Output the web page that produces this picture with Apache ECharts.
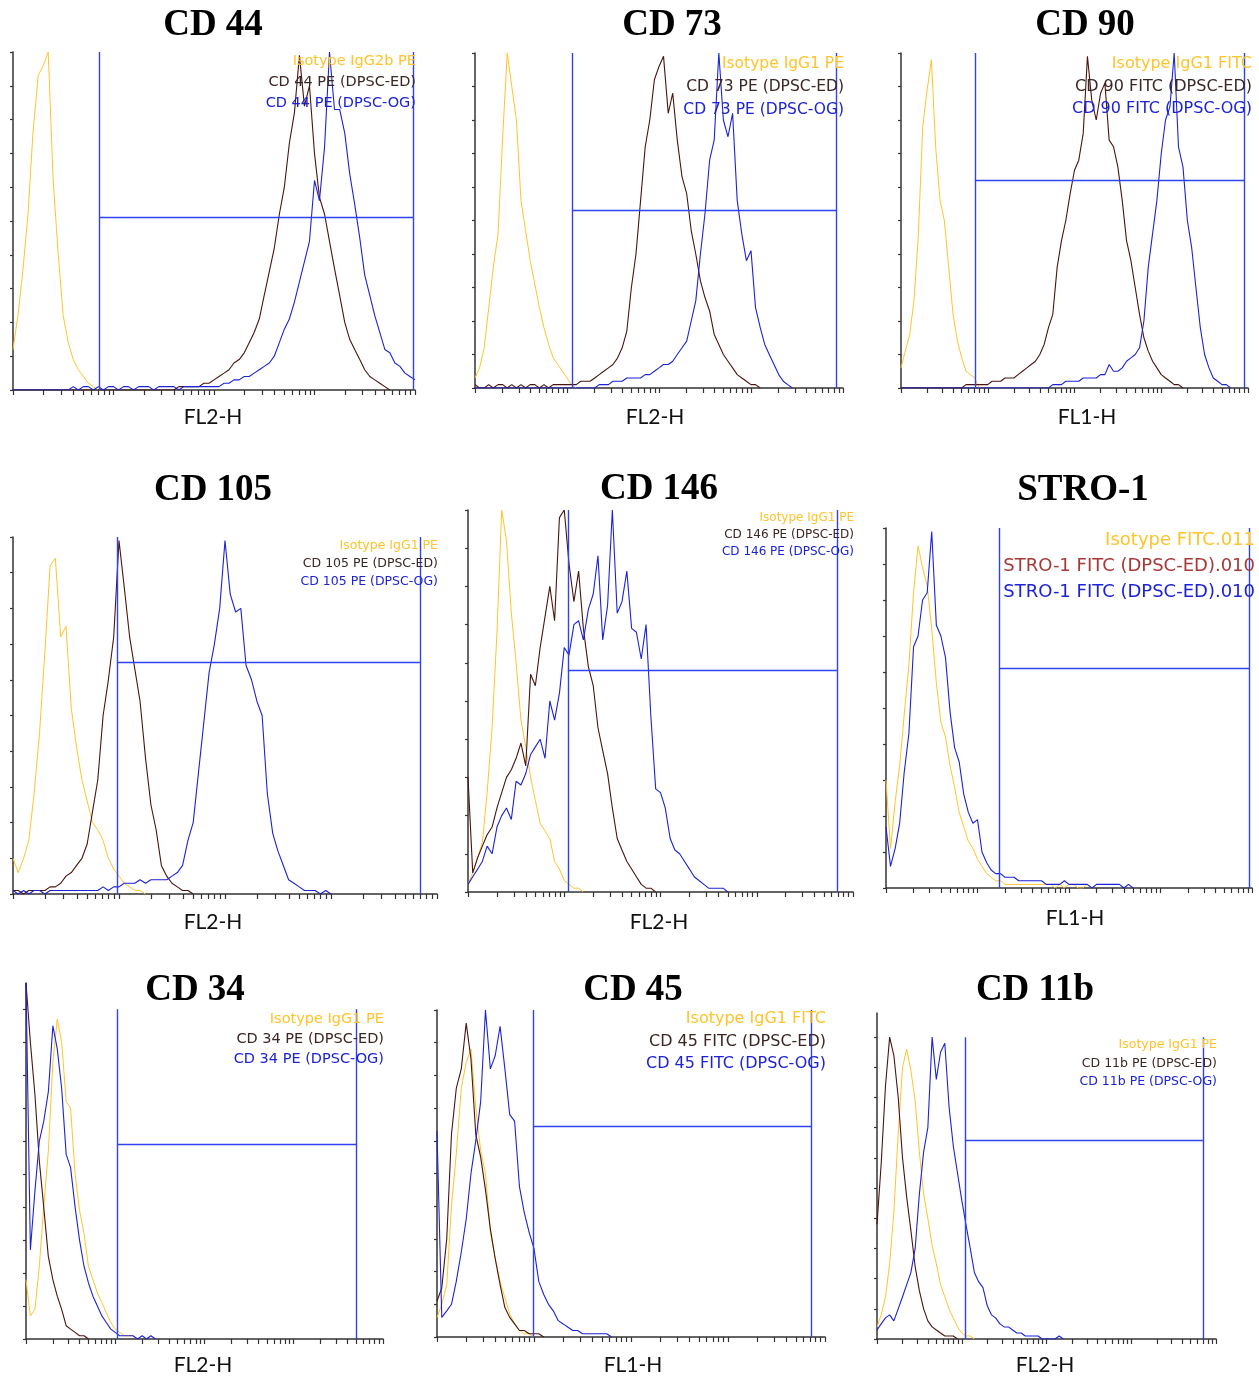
<!DOCTYPE html>
<html>
<head>
<meta charset="utf-8">
<title>DPSC surface markers</title>
<script src="https://cdn.jsdelivr.net/npm/echarts@6/dist/echarts.min.js"></script>
<style>
  html, body { margin: 0; padding: 0; background: #fff; }
  #chart { width: 1259px; height: 1377px; }
</style>
</head>
<body>
<div id="chart"></div>
<script>
// histogram bins: 20 per decade over 10^0 .. 10^4
var mantissa = [1, 1.12, 1.26, 1.41, 1.58, 1.78, 2, 2.24, 2.51, 2.82, 3.16, 3.55, 3.98, 4.47, 5.01, 5.62, 6.31, 7.08, 7.94, 8.91];
var decades = [1, 10, 100, 1000];
var logTicks = [1, 2, 3, 4, 5, 6, 7, 8, 9, 10, 20, 30, 40, 50, 60, 70, 80, 90, 100, 200, 300, 400, 500, 600, 700, 800, 900,
  1000, 2000, 3000, 4000, 5000, 6000, 7000, 8000, 9000, 10000];
var yTicks = [0, 10, 20, 30, 40, 50, 60, 70, 80, 90, 100];

var titles = ['CD 44', 'CD 73', 'CD 90', 'CD 105', 'CD 146', 'STRO-1', 'CD 34', 'CD 45', 'CD 11b'];
var channels = ['FL2-H', 'FL2-H', 'FL1-H', 'FL2-H', 'FL2-H', 'FL1-H', 'FL2-H', 'FL1-H', 'FL2-H'];
var isoNames = ['Isotype IgG2b PE', 'Isotype IgG1 PE', 'Isotype IgG1 FITC', 'Isotype IgG1 PE', 'Isotype IgG1 PE',
  'Isotype FITC.011', 'Isotype IgG1 PE', 'Isotype IgG1 FITC', 'Isotype IgG1 PE'];
var edNames = ['CD 44 PE (DPSC-ED)', 'CD 73 PE (DPSC-ED)', 'CD 90 FITC (DPSC-ED)', 'CD 105 PE (DPSC-ED)', 'CD 146 PE (DPSC-ED)',
  'STRO-1 FITC (DPSC-ED).010', 'CD 34 PE (DPSC-ED)', 'CD 45 FITC (DPSC-ED)', 'CD 11b PE (DPSC-ED)'];
var ogNames = ['CD 44 PE (DPSC-OG)', 'CD 73 PE (DPSC-OG)', 'CD 90 FITC (DPSC-OG)', 'CD 105 PE (DPSC-OG)', 'CD 146 PE (DPSC-OG)',
  'STRO-1 FITC (DPSC-ED).010', 'CD 34 PE (DPSC-OG)', 'CD 45 FITC (DPSC-OG)', 'CD 11b PE (DPSC-OG)'];

// gate marker: low / high channel and level (% of max)
var gateLow = [7.2, 11.3, 7.1, 9.6, 10.9, 17.2, 10.5, 9.8, 10.9];
var gateHigh = [9550, 8400, 9000, 6900, 6800, 9300, 5000, 7200, 7000];
var gateLevel = [51, 53, 62, 65, 58, 61, 59, 64.5, 66];

// counts per bin (% of peak)
var iso44 = [12, 22, 36, 52, 76, 93, 96, 100, 62, 40, 22, 14, 9, 6, 4, 2, 1, 0];
var ed44 = [0, 0, 0, 0, 0, 0, 0, 0, 0, 0, 0, 0, 0, 0, 0, 0, 0, 0, 0, 0, 0, 0, 0, 0, 0, 0, 0, 0, 0, 0,
  0, 0, 0, 1, 1, 1, 1, 1, 2, 2, 3, 4, 5, 6, 8, 9, 11, 14, 17, 21, 28, 35, 42, 52, 60, 73, 82, 99, 84, 90,
  70, 57, 52, 44, 36, 28, 20, 15, 12, 9, 6, 4, 3, 2, 1, 0];
var og44 = [0, 0, 0, 0, 0, 0, 0, 0, 0, 0, 0, 0, 1, 0, 1, 1, 0, 1, 0, 1, 1, 0, 1, 1, 0, 1, 1, 1, 0, 1,
  1, 1, 1, 0, 1, 1, 1, 1, 1, 1, 1, 1, 2, 2, 3, 3, 4, 4, 5, 6, 7, 8, 10, 14, 18, 21, 26, 32, 38, 44,
  62, 56, 72, 100, 83, 83, 76, 64, 55, 45, 34, 28, 22, 17, 12, 11, 8, 7, 5, 4, 3];

var iso73 = [3, 6, 12, 24, 36, 46, 75, 100, 90, 80, 56, 47, 38, 31, 24, 18, 13, 9, 7, 5, 3, 1, 0];
var ed73 = [1, 0, 0, 1, 0, 1, 1, 0, 1, 0, 1, 0, 1, 1, 0, 1, 0, 1, 1, 1, 1,
  1, 1, 2, 2, 2, 3, 4, 5, 6, 7, 9, 12, 17, 30, 40, 56, 72, 80, 92, 96, 99, 82, 88, 74, 63, 58, 47, 40, 32, 27,
  23, 16, 13, 10, 8, 6, 4, 3, 2, 1, 1, 0];
var og73 = [0, 0, 0, 0, 0, 0, 0, 0, 0, 0, 0, 0, 0, 0, 0, 0, 0, 0, 0, 0, 0, 0, 0, 0, 0, 0, 0,
  1, 1, 1, 2, 2, 2, 3, 3, 3, 3, 4, 4, 5, 6, 7, 7, 8, 10, 12, 14, 20, 26, 40, 52, 68, 74, 100, 80, 75, 82,
  56, 46, 38, 41, 24, 18, 13, 10, 7, 4, 2, 1, 0];

var iso90 = [6, 11, 16, 26, 45, 78, 89, 98, 72, 56, 50, 36, 22, 14, 9, 5, 4, 3, 0];
var ed90 = [0, 0, 0, 0, 0, 0, 0, 0, 0, 0, 0, 0, 0, 0, 0,
  1, 1, 1, 1, 1, 1, 2, 2, 2, 3, 3, 3, 4, 5, 6, 7, 8, 10, 13, 18, 22, 36, 44, 50, 58, 65, 68, 76, 99, 86,
  80, 88, 91, 74, 72, 66, 56, 44, 38, 30, 22, 15, 11, 8, 6, 4, 3, 2, 1, 1, 0];
var og90 = [0, 0, 0, 0, 0, 0, 0, 0, 0, 0, 0, 0, 0, 0, 0, 0, 0, 0, 0, 0, 0, 0, 0, 0, 0, 0, 0, 0, 0, 0, 0, 0, 0, 0, 0,
  1, 1, 1, 2, 2, 2, 2, 3, 3, 3, 3, 4, 4, 7, 5, 5, 6, 8, 9, 10, 12, 20, 36, 46, 56, 70, 80, 84, 100, 72,
  66, 50, 42, 30, 18, 10, 6, 3, 2, 1, 1, 0];

var iso105 = [10, 6, 10, 15, 28, 45, 68, 92, 94, 72, 75, 52, 41, 32, 26, 20, 18, 15, 10, 7, 5, 3, 2, 1, 1, 0];
var ed105 = [1, 1, 0, 1, 1, 1, 1, 2, 2, 3, 5, 6, 8, 10, 14, 23, 32, 50, 60, 72, 99, 86, 72, 63, 54, 38, 25, 18, 8, 5,
  3, 2, 1, 1, 0];
var og105 = [1, 0, 1, 0, 1, 1, 0, 1, 1, 1, 1, 1, 1, 1, 1, 1, 1, 2, 1, 2, 2, 3, 3, 3, 4, 3, 4, 4, 4, 4,
  5, 6, 8, 15, 20, 34, 48, 62, 70, 80, 99, 84, 79, 80, 64, 60, 54, 50, 28, 17, 12, 8, 4, 3, 2, 1, 1, 1, 0, 1, 0];

var iso146 = [2, 5, 9, 13, 26, 43, 68, 100, 92, 73, 60, 45, 38, 30, 24, 18, 16, 14, 8, 6, 3, 2, 1, 1, 0];
var ed146 = [30, 5, 9, 12, 15, 17, 22, 26, 30, 32, 35, 39, 33, 57, 54, 64, 72, 80, 71, 98, 100, 86, 76, 84, 69,
  59, 54, 43, 37, 31, 22, 14, 11, 8, 6, 4, 2, 1, 1, 0];
var og146 = [2, 4, 6, 8, 12, 10, 17, 20, 22, 19, 29, 28, 31, 36, 38, 40, 35, 50, 45, 52, 64, 62, 70, 71, 66,
  74, 78, 88, 66, 75, 100, 73, 76, 84, 69, 68, 61, 70, 46, 27, 26, 22, 14, 11, 10, 8, 6, 4, 3, 2, 1, 1, 1, 1, 0];

var isoStro = [30, 11, 24, 34, 48, 62, 82, 95, 89, 84, 72, 57, 46, 42, 34, 28, 21, 17, 13, 11, 8, 6, 4, 3, 2,
  2, 1, 1, 1, 1, 1, 1, 1, 1, 1, 1, 1, 0, 1, 0, 1, 1, 0, 0, 1, 0];
var edStro = [];
var ogStro = [17, 6, 11, 18, 32, 43, 67, 70, 80, 82, 99, 73, 70, 64, 49, 39, 35, 26, 21, 18, 19, 10, 7, 5, 4,
  4, 3, 3, 3, 2, 2, 2, 2, 2, 2, 1, 1, 1, 1, 2, 1, 1, 1, 1, 1, 0, 1, 1, 1, 1, 1, 1, 0, 1, 0];

var iso34 = [18, 7, 9, 22, 40, 57, 84, 97, 90, 72, 70, 50, 39, 32, 22, 18, 14, 11, 8, 5, 3, 2, 1, 1, 1, 0];
var ed34 = [108, 90, 74, 54, 40, 25, 18, 13, 9, 4, 3, 2, 1, 1, 0];
var og34 = [108, 27, 45, 60, 66, 75, 95, 88, 76, 56, 52, 40, 30, 22, 17, 13, 10, 7, 5, 3, 2, 1, 1, 1, 1,
  0, 1, 0, 1, 0];

var iso45 = [6, 10, 16, 40, 56, 76, 84, 88, 70, 57, 50, 32, 24, 17, 12, 7, 4, 2, 1, 1, 0];
var ed45 = [11, 15, 30, 62, 76, 82, 96, 85, 62, 55, 45, 33, 24, 16, 9, 6, 4, 2, 2, 1, 1, 1, 0];
var og45 = [63, 6, 8, 10, 17, 26, 36, 50, 60, 72, 100, 82, 86, 95, 82, 68, 66, 46, 38, 32, 27, 17, 13, 10, 8,
  5, 4, 3, 2, 2, 1, 1, 1, 1, 1, 1, 0];

var iso11b = [4, 8, 14, 25, 42, 68, 90, 96, 89, 79, 62, 48, 40, 31, 25, 18, 14, 10, 7, 4, 2, 1, 1, 0];
var ed11b = [38, 58, 84, 100, 94, 80, 60, 47, 36, 24, 16, 10, 6, 4, 3, 2, 1, 1, 1, 0];
var og11b = [3, 5, 7, 8, 6, 10, 14, 18, 22, 30, 48, 62, 70, 100, 86, 95, 98, 77, 64, 55, 46, 38, 30, 22, 19,
  17, 11, 8, 7, 5, 4, 4, 3, 2, 2, 1, 1, 1, 1, 0, 0, 0, 0, 1, 0];

var isoSets = [iso44, iso73, iso90, iso105, iso146, isoStro, iso34, iso45, iso11b];
var edSets = [ed44, ed73, ed90, ed105, ed146, edStro, ed34, ed45, ed11b];
var ogSets = [og44, og73, og90, og105, og146, ogStro, og34, og45, og11b];

// layout
var boxes = [
  { left: 13, top: 52, width: 402, height: 338, ymax: 100 },
  { left: 475, top: 53, width: 368, height: 335, ymax: 100 },
  { left: 901, top: 53, width: 347, height: 335, ymax: 100 },
  { left: 13, top: 537, width: 424, height: 357, ymax: 100 },
  { left: 468, top: 510, width: 385, height: 382, ymax: 100 },
  { left: 886, top: 528, width: 366, height: 360, ymax: 100 },
  { left: 26, top: 983, width: 357, height: 356, ymax: 108 },
  { left: 437, top: 1010, width: 388, height: 327, ymax: 100 },
  { left: 877, top: 1013, width: 339, height: 326, ymax: 108 }
];
var titlePos = [[213, 25], [672, 25], [1085, 25], [213, 490], [659, 489], [1083, 490], [195, 990], [633, 990], [1035, 990]];
var namePos = [[213, 417], [655, 417], [1087, 417], [213, 922], [659, 922], [1075, 918], [203, 1365], [633, 1365], [1045, 1365]];
// right edge, first line y, line step, font size
var legendPos = [[416, 61, 21, 14.5], [844, 64, 23, 15.5], [1252, 64, 22.5, 16], [438, 546, 18, 12.5], [854, 518, 17, 12],
  [1255, 540, 26, 18], [384, 1019, 20, 14.5], [826, 1019, 22.5, 16], [1217, 1045, 18.5, 12.5]];

var ISO = '#ffc42a', ED = '#4a1410', OG = '#1c22d8', GATE = '#2f43ee', AXIS = '#333';

var bins = [];
decades.forEach(function (d) {
  mantissa.forEach(function (m) { bins.push(+(m * d).toPrecision(4)); });
});
bins.push(10000);

function toPoints(counts) {
  return counts.map(function (v, i) { return [bins[i], v]; });
}

var grids = [], xAxes = [], yAxes = [], series = [], graphics = [];

boxes.forEach(function (b, k) {
  grids.push({ left: b.left, top: b.top, width: b.width, height: b.height });
  xAxes.push({
    type: 'log', logBase: 10, min: 1, max: 10000, gridIndex: k,
    axisLine: { show: true, lineStyle: { color: AXIS, width: 1.5 } },
    axisTick: { show: true, length: 5, customValues: logTicks, lineStyle: { color: AXIS, width: 1.2 } },
    axisLabel: { show: false },
    splitLine: { show: false },
    minorTick: { show: false }
  });
  yAxes.push({
    type: 'value', min: 0, max: b.ymax, gridIndex: k,
    axisLine: { show: true, lineStyle: { color: AXIS, width: 1.5 } },
    axisTick: { show: true, length: 3, customValues: yTicks, lineStyle: { color: AXIS, width: 1.2 } },
    axisLabel: { show: false },
    splitLine: { show: false }
  });

  var base = { type: 'line', xAxisIndex: k, yAxisIndex: k, showSymbol: false, symbol: 'none', silent: true };
  series.push(Object.assign({}, base, {
    name: isoNames[k], data: toPoints(isoSets[k]), lineStyle: { color: ISO, width: 1 }
  }));
  if (edSets[k].length) {
    series.push(Object.assign({}, base, {
      name: edNames[k], data: toPoints(edSets[k]), lineStyle: { color: ED, width: 1.1 }
    }));
  }
  var lo = gateLow[k], hi = gateHigh[k], lev = gateLevel[k];
  series.push(Object.assign({}, base, {
    name: ogNames[k], data: toPoints(ogSets[k]), lineStyle: { color: OG, width: 1.1 },
    markLine: {
      silent: true, symbol: ['none', 'none'], label: { show: false },
      lineStyle: { color: GATE, width: 1.4, type: 'solid' },
      data: [
        [{ coord: [lo, 0] }, { coord: [lo, 100] }],
        [{ coord: [hi, 0] }, { coord: [hi, 100] }],
        [{ coord: [lo, lev] }, { coord: [hi, lev] }]
      ]
    }
  }));

  graphics.push({
    type: 'text', x: titlePos[k][0], y: titlePos[k][1], silent: true,
    style: { text: titles[k], fontFamily: 'Liberation Serif', fontWeight: 'bold', fontSize: 37,
      fill: '#000', align: 'center', verticalAlign: 'middle' }
  });
  graphics.push({
    type: 'text', x: namePos[k][0], y: namePos[k][1], silent: true,
    style: { text: channels[k], fontFamily: 'Lato', fontSize: 21, fill: '#111', align: 'center', verticalAlign: 'middle' }
  });
  var lp = legendPos[k];
  var legendColors = [ISO, k === 5 ? '#a83838' : '#3a2622', OG];
  [isoNames[k], edNames[k], ogNames[k]].forEach(function (t, j) {
    graphics.push({
      type: 'text', x: lp[0], y: lp[1] + j * lp[2], silent: true, z: 10,
      style: { text: t, fontFamily: 'DejaVu Sans', fontSize: lp[3], fill: legendColors[j], align: 'right', verticalAlign: 'middle' }
    });
  });
});

var chart = echarts.init(document.getElementById('chart'), null, { renderer: 'canvas' });
chart.setOption({
  backgroundColor: '#fff',
  animation: false,
  grid: grids,
  xAxis: xAxes,
  yAxis: yAxes,
  series: series,
  graphic: graphics
});
</script>
</body>
</html>
